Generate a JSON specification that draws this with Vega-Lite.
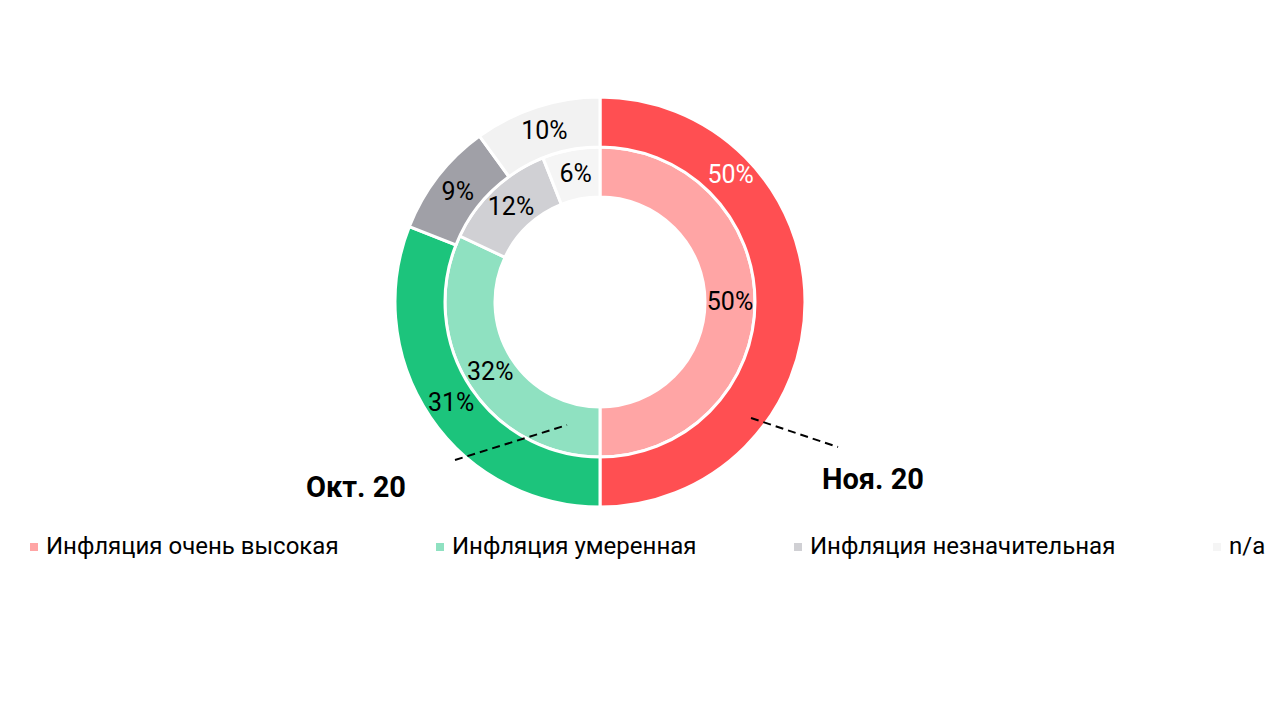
{
  "$schema": "https://vega.github.io/schema/vega-lite/v6.json",
  "width": 1200,
  "height": 604,
  "autosize": {"type": "none"},
  "padding": {"left": 0, "top": 0, "right": 80, "bottom": 116},
  "background": "white",
  "config": {"view": {"stroke": null}, "font": "Roboto"},
  "datasets": {
    "rings": [
      {"month": "Ноя. 20", "category": "Инфляция очень высокая", "rank": 1, "share": 0.50},
      {"month": "Ноя. 20", "category": "Инфляция умеренная", "rank": 2, "share": 0.31},
      {"month": "Ноя. 20", "category": "Инфляция незначительная", "rank": 3, "share": 0.09},
      {"month": "Ноя. 20", "category": "n/a", "rank": 4, "share": 0.10},
      {"month": "Окт. 20", "category": "Инфляция очень высокая", "rank": 1, "share": 0.50},
      {"month": "Окт. 20", "category": "Инфляция умеренная", "rank": 2, "share": 0.32},
      {"month": "Окт. 20", "category": "Инфляция незначительная", "rank": 3, "share": 0.12},
      {"month": "Окт. 20", "category": "n/a", "rank": 4, "share": 0.06}
    ],
    "notes": [
      {"label": "Окт. 20", "x1": -0.7108, "y1": -0.7745, "x2": -0.1618, "y2": -0.6029, "lx": -1.1961, "ly": -0.9559},
      {"label": "Ноя. 20", "x1": 0.7402, "y1": -0.5686, "x2": 1.1667, "y2": -0.7108, "lx": 1.3382, "ly": -0.9167}
    ]
  },
  "layer": [
    {
      "data": {"name": "rings"},
      "transform": [{"filter": "datum.month == 'Окт. 20'"}],
      "mark": {"type": "arc", "innerRadius": 105, "outerRadius": 155, "stroke": "white", "strokeWidth": 3},
      "encoding": {
        "theta": {"field": "share", "type": "quantitative", "stack": true},
        "order": {"field": "rank", "type": "quantitative"},
        "color": {
          "field": "category",
          "type": "nominal",
          "scale": {
            "domain": ["Инфляция очень высокая", "Инфляция умеренная", "Инфляция незначительная", "n/a"],
            "range": ["#FFA5A5", "#8FE1C1", "#D0D0D4", "#F5F5F5"]
          },
          "legend": {
            "orient": "none",
            "legendX": 22,
            "legendY": 535,
            "direction": "horizontal",
            "title": null,
            "padding": 0,
            "symbolType": "square",
            "symbolSize": 64,
            "symbolStrokeWidth": 0,
            "symbolOpacity": 1,
            "labelFont": "Roboto",
            "labelFontSize": 24,
            "labelColor": "#000000",
            "labelOffset": 0,
            "labelLimit": 0,
            "columnPadding": 89,
            "gridAlign": "none"
          }
        }
      }
    },
    {
      "data": {"name": "rings"},
      "transform": [{"filter": "datum.month == 'Ноя. 20'"}],
      "mark": {"type": "arc", "innerRadius": 155, "outerRadius": 205, "stroke": "white", "strokeWidth": 3},
      "encoding": {
        "theta": {"field": "share", "type": "quantitative", "stack": true},
        "order": {"field": "rank", "type": "quantitative"},
        "color": {
          "field": "category",
          "type": "nominal",
          "scale": {
            "domain": ["Инфляция очень высокая", "Инфляция умеренная", "Инфляция незначительная", "n/a"],
            "range": ["#FF4F52", "#1CC47C", "#A0A0A7", "#F2F2F2"]
          },
          "legend": null
        }
      }
    },
    {
      "data": {"name": "rings"},
      "transform": [{"filter": "datum.month == 'Окт. 20'"}],
      "mark": {"type": "text", "radius": 130, "font": "Roboto", "fontSize": 25, "color": "#000000"},
      "encoding": {
        "theta": {"field": "share", "type": "quantitative", "stack": true},
        "order": {"field": "rank", "type": "quantitative"},
        "text": {"field": "share", "type": "quantitative", "format": ".0%"},
        "detail": {"field": "category"}
      }
    },
    {
      "data": {"name": "rings"},
      "transform": [{"filter": "datum.month == 'Ноя. 20'"}],
      "mark": {"type": "text", "radius": 180, "font": "Roboto", "fontSize": 25, "color": "#000000"},
      "encoding": {
        "theta": {"field": "share", "type": "quantitative", "stack": true},
        "order": {"field": "rank", "type": "quantitative"},
        "text": {"field": "share", "type": "quantitative", "format": ".0%"},
        "detail": {"field": "category"},
        "opacity": {"condition": {"test": "datum.rank == 1", "value": 0}, "value": 1}
      }
    },
    {
      "data": {"name": "rings"},
      "transform": [{"filter": "datum.month == 'Ноя. 20' && datum.rank == 1"}],
      "mark": {"type": "text", "radius": 182, "thetaOffset": -0.77, "font": "Roboto", "fontSize": 25, "color": "#FFFFFF"},
      "encoding": {
        "theta": {"field": "share", "type": "quantitative", "stack": true},
        "text": {"field": "share", "type": "quantitative", "format": ".0%"}
      }
    },
    {
      "data": {"name": "notes"},
      "mark": {"type": "rule", "color": "#000000", "strokeWidth": 2, "strokeDash": [8, 5]},
      "encoding": {
        "x": {"field": "x1", "type": "quantitative", "scale": {"domain": [-2.941, 2.941], "nice": false, "zero": false}, "axis": null},
        "x2": {"field": "x2"},
        "y": {"field": "y1", "type": "quantitative", "scale": {"domain": [-1.48, 1.48], "nice": false, "zero": false}, "axis": null},
        "y2": {"field": "y2"}
      }
    },
    {
      "data": {"name": "notes"},
      "mark": {"type": "text", "font": "Roboto", "fontSize": 29, "fontWeight": "bold", "color": "#000000", "align": "center", "baseline": "alphabetic"},
      "encoding": {
        "x": {"field": "lx", "type": "quantitative", "scale": {"domain": [-2.941, 2.941], "nice": false, "zero": false}, "axis": null},
        "y": {"field": "ly", "type": "quantitative", "scale": {"domain": [-1.48, 1.48], "nice": false, "zero": false}, "axis": null},
        "text": {"field": "label"}
      }
    }
  ],
  "resolve": {"scale": {"color": "independent"}}
}
